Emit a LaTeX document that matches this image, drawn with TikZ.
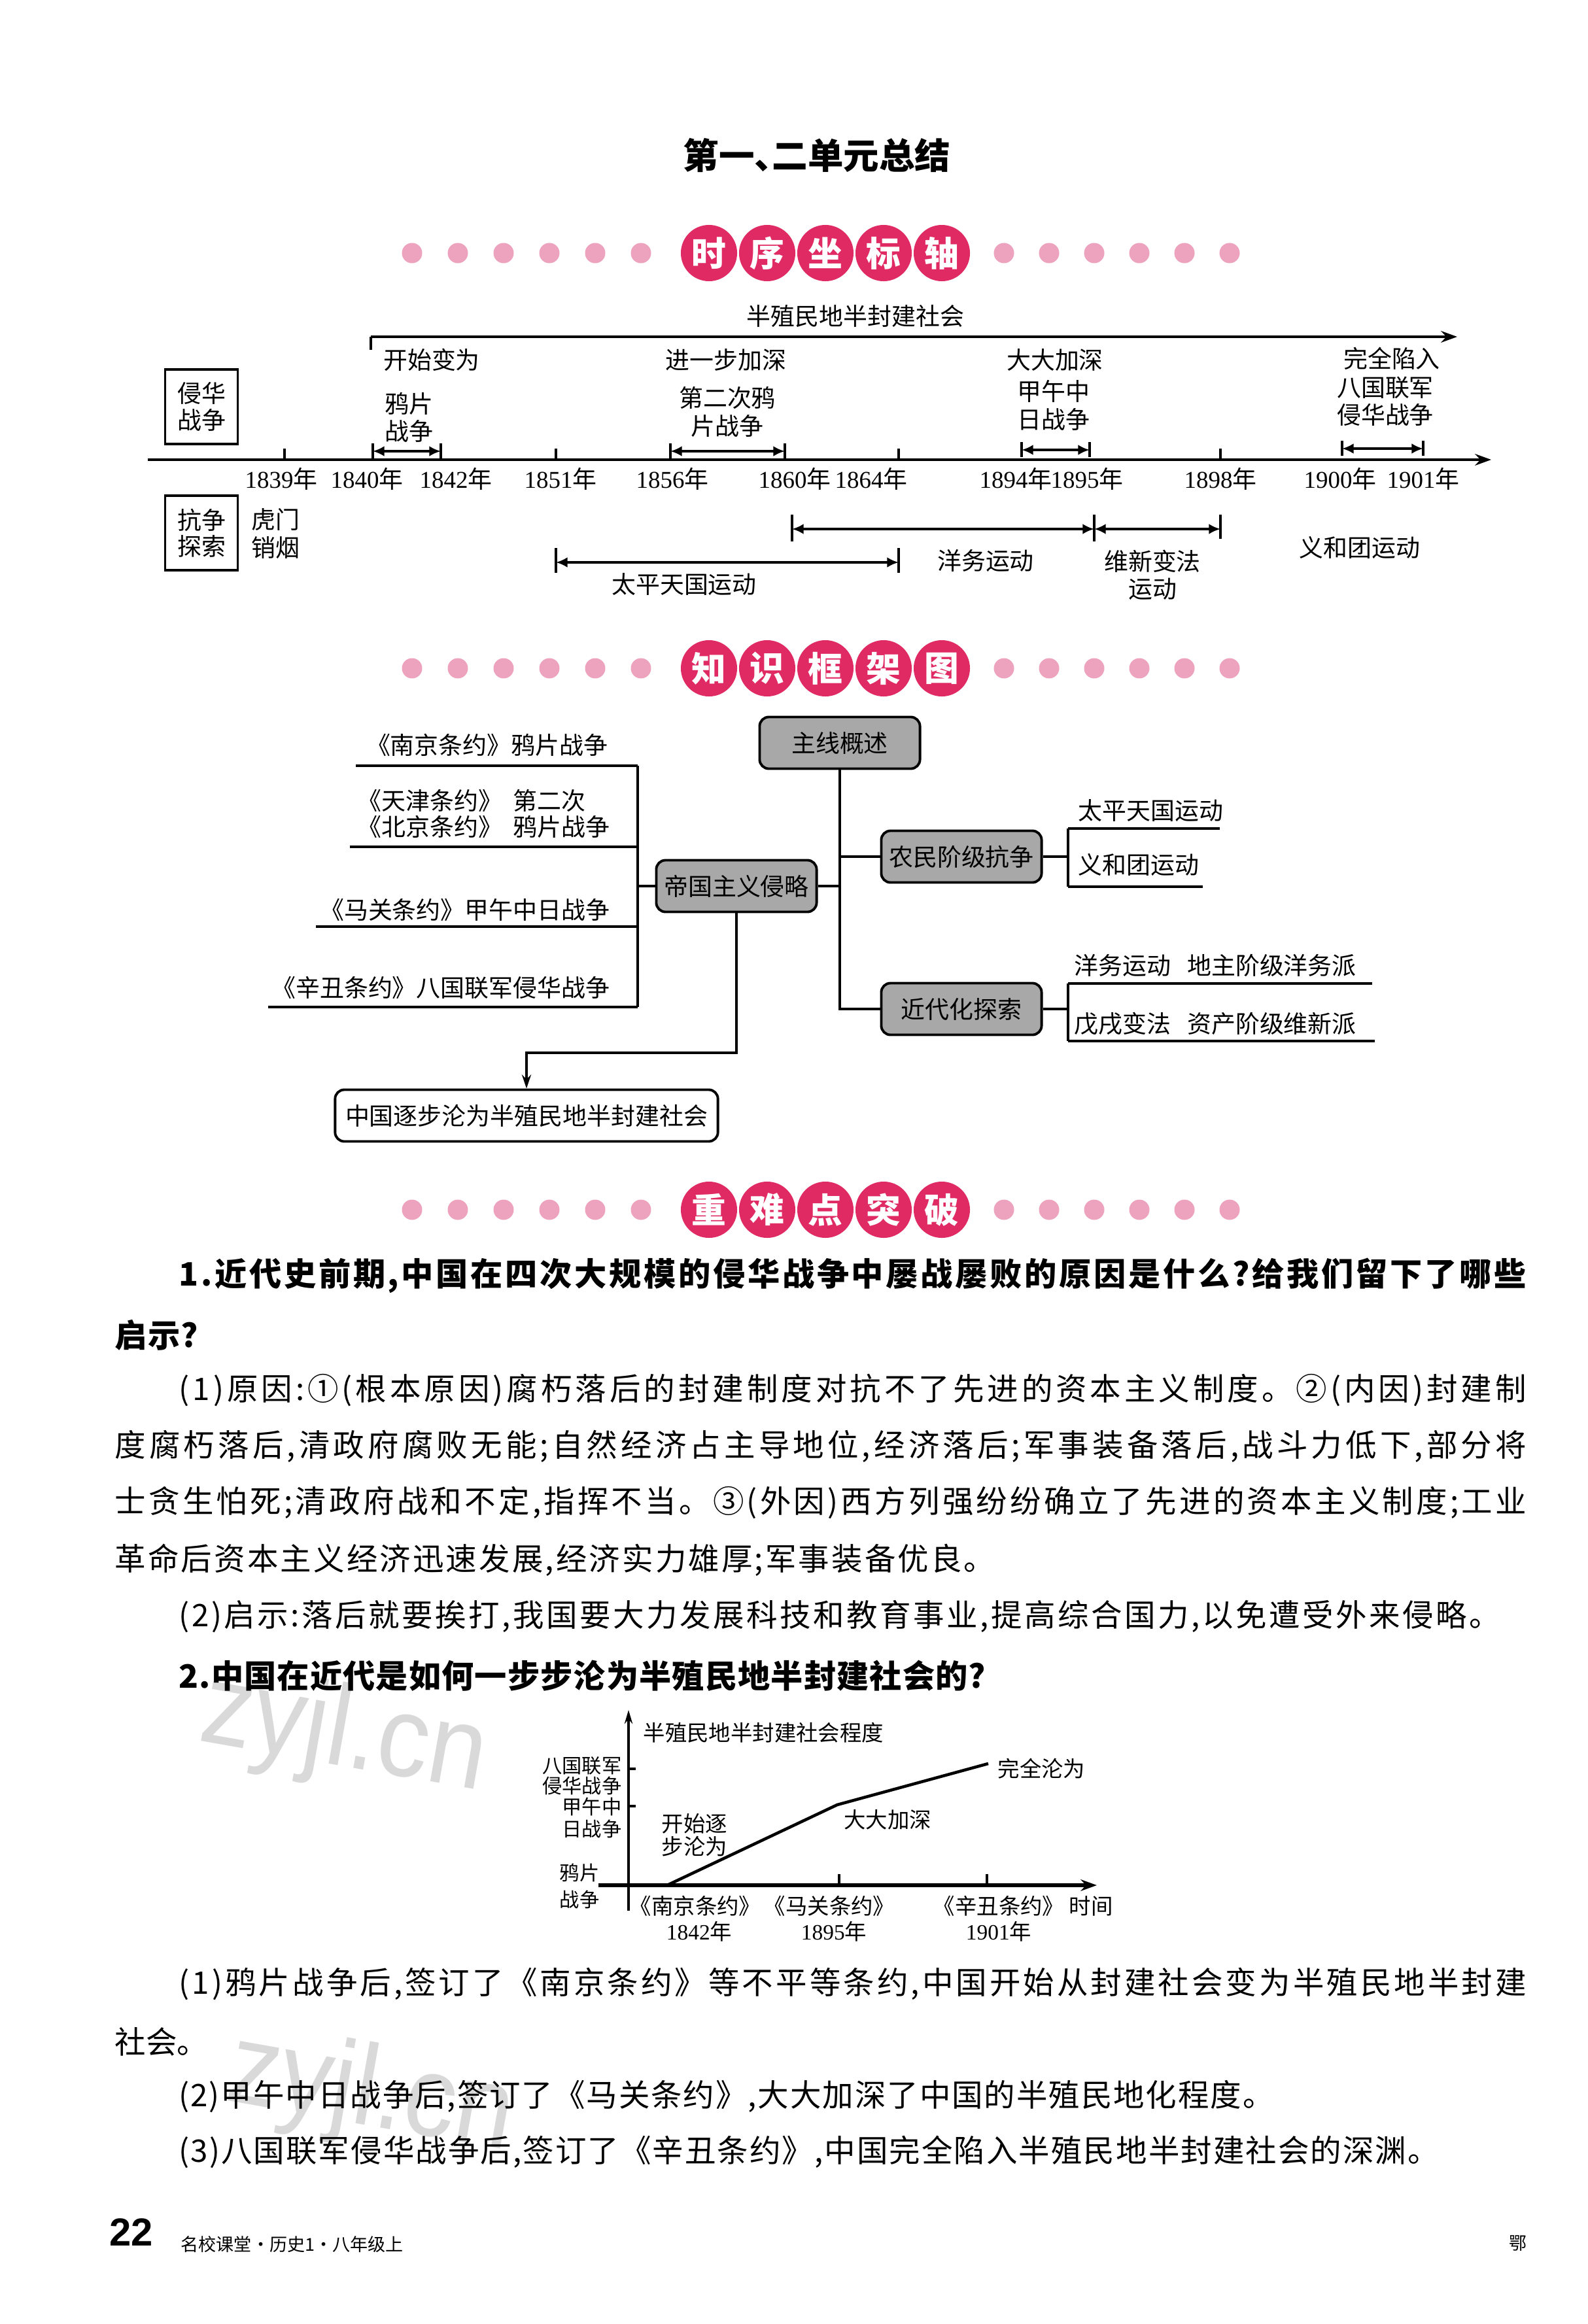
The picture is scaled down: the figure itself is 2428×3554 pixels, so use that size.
\documentclass[tikz,border=0pt]{standalone}
\usepackage{fontspec}
\newfontfamily\cjk{Noto Sans CJK SC}
\newfontfamily\serifdig{Liberation Serif}
\newfontfamily\wmfont{Liberation Sans}
\usetikzlibrary{arrows.meta}
\definecolor{hdrpink}{HTML}{E02A63}
\definecolor{dotpink}{HTML}{EDA3BD}
\definecolor{boxgray}{HTML}{A8A8A8}
\newcommand{\fsz}[1]{\fontsize{#1}{#1}\selectfont}
\newcommand{\yr}[1]{{\serifdig #1}年}
\newcommand{\sprEnd}{SPREND}
\newcommand{\spr}[1]{\sprB#1\sprEnd}
\newcommand{\sprB}[1]{#1\sprA}
\newcommand{\sprA}[1]{\ifx#1\sprEnd\else\hfill#1\expandafter\sprA\fi}
\newcommand{\jline}[2]{\hbox to #1{\spr{#2}}}
\newcommand{\secheader}[3]{%
  \foreach \i in {0,...,5}{%
    \node[hdot] (#2l\i) at ({630+70*\i},#1) {};
    \node[hdot] (#2r\i) at ({1535+69*\i},#1) {};
  }%
  \foreach \c [count=\i] in {#3}{%
    \node[hcirc] (#2c\i) at ({1084+89*(\i-1)},#1) {\c};
  }%
}
\begin{document}
\begin{tikzpicture}[x=0.01cm,y=-0.01cm,
  hdot/.style={circle,fill=dotpink,minimum size=0.31cm,inner sep=0pt},
  hcirc/.style={circle,fill=hdrpink,minimum size=0.86cm,inner sep=0pt,text=white,font=\cjk\bfseries\fsz{15pt}},
  tl/.style={inner sep=0pt,font=\cjk\fontsize{10.5pt}{12pt}\selectfont,align=center},
  axis/.style={line width=1.3pt},
  dbl/.style={line width=1.4pt,{Latex[length=5pt,width=4.5pt]}-{Latex[length=5pt,width=4.5pt]}},
  bar/.style={line width=1pt},
  tbox/.style={draw,line width=1.1pt,minimum width=1.11cm,minimum height=1.14cm,inner sep=0pt,align=center,font=\cjk\fontsize{10.5pt}{11.5pt}\selectfont},
  gbox/.style={draw=black,line width=1.1pt,fill=boxgray,rounded corners=4pt,minimum width=2.45cm,minimum height=0.79cm,inner sep=0pt,font=\cjk\fsz{10.5pt}},
  conn/.style={line width=1.1pt},
  fl/.style={inner sep=0pt,font=\cjk\fontsize{10.5pt}{11.4pt}\selectfont},
  cl/.style={inner sep=0pt,font=\cjk\fontsize{9.5pt}{10pt}\selectfont},
  cly/.style={inner sep=0pt,anchor=east,font=\cjk\fsz{8.6pt}},
  pline/.style={anchor=west,inner sep=0pt,font=\cjk\fsz{13.5pt}},
  qline/.style={anchor=west,inner sep=0pt,font=\cjk\bfseries\fsz{14pt}},
  wm/.style={inner sep=0pt,text=gray!30,font=\wmfont\fsz{50pt}}
]
\useasboundingbox (0,0) rectangle (2428,3554);
\fill[white] (0,0) rectangle (2428,3554);

% watermarks
\node[wm,rotate=-10] (wm1) at (526,2655) {\scalebox{0.9}[1]{zyjl.cn}};
\node[wm,rotate=-10] (wm2) at (567,3205) {\scalebox{0.9}[1]{zyjl.cn}};

% title
\node[inner sep=0pt,font=\cjk\bfseries\fsz{15.5pt}] (title) at (1249,238) {第一、\hspace{-0.5em}二单元总结};

% ===== header 1 =====
\secheader{387}{ha}{时,序,坐,标,轴}

% ===== timeline =====
\node[tl] (bz) at (1308,483) {半殖民地半封建社会};
\coordinate (topL) at (567,515);
\coordinate (topLb) at (567,535);
\coordinate (topR) at (2228,515);
\draw[axis,-{Stealth[length=7pt,width=5pt]}] (topL) -- (topR);
\draw[axis] (topLb) -- (topL);
\node[tl] (s1) at (660,550) {开始变为};
\node[tl] (s2) at (1110,550) {进一步加深};
\node[tl] (s3) at (1613,550) {大大加深};
\node[tl] (s4) at (2128,548) {完全陷入};

\node[tbox] (qh) at (308,622) {侵华\\战争};
\node[tbox] (kz) at (308,815) {抗争\\探索};

\node[tl] (w1) at (625,638) {鸦片\\战争};
\node[tl] (w2) at (1112,630) {第二次鸦\\片战争};
\node[tl] (w3) at (1611,620) {甲午中\\日战争};
\node[tl] (w4) at (2118,614) {八国联军\\侵华战争};

% main axis
\coordinate (axL) at (226,703);
\coordinate (axR) at (2280,703);
\draw[axis,-{Stealth[length=7pt,width=5pt]}] (axL) -- (axR);
\foreach \x in {435,850,1374,1866} { \draw[bar] (\x,703) -- (\x,686); }

% war double arrows
\foreach \a/\b/\y in {570/674/690,1025/1200/690,1562/1666/688,2052/2176/686}{
  \draw[bar] (\a,\y-12) -- (\a,\y+11);
  \draw[bar] (\b,\y-12) -- (\b,\y+11);
  \draw[dbl] (\a,\y) -- (\b,\y);
}

% years
\foreach \x/\t in {430/1839,561/1840,697/1842,857/1851,1028/1856,1215/1860,1332/1864,1553/1894,1662/1895,1866/1898,2049/1900,2176/1901}{
  \node[tl] (y\t) at (\x,732) {\yr{\t}};
}

% struggle arrows
\draw[bar] (1211,787) -- (1211,828);
\draw[bar] (1673,787) -- (1673,828);
\draw[bar] (1866,787) -- (1866,824);
\draw[dbl] (1211,809) -- (1673,809);
\draw[dbl] (1673,809) -- (1866,809);
\draw[bar] (850,838) -- (850,876);
\draw[bar] (1374,838) -- (1374,876);
\draw[dbl] (850,860) -- (1374,860);

\node[tl] (hm) at (421,816) {虎门\\销烟};
\node[tl] (tp) at (1046,894) {太平天国运动};
\node[tl] (yw) at (1507,857) {洋务运动};
\node[tl] (wx) at (1762,879) {维新变法\\运动};
\node[tl] (yh) at (2079,837) {义和团运动};

% ===== header 2 =====
\secheader{1022}{hb}{知,识,框,架,图}

% ===== knowledge frame =====
\node[gbox] (zx) at (1284,1136) {主线概述};
\node[gbox] (dg) at (1126,1355) {帝国主义侵略};
\node[gbox] (nm) at (1470,1310) {农民阶级抗争};
\node[gbox] (jd) at (1470,1543) {近代化探索};
\node[draw,line width=1.1pt,rounded corners=4pt,minimum width=5.85cm,minimum height=0.79cm,inner sep=0pt,font=\cjk\fsz{10.5pt}] (zg) at (805,1706) {中国逐步沦为半殖民地半封建社会};

\draw[conn] (zx.south) |- (jd.west);
\draw[conn] (zx.south |- nm.west) -- (nm.west);
\draw[conn] (dg.east) -- (dg.east -| zx.south);

% left bracket
\coordinate (lbT) at (975,1171);
\coordinate (lbB) at (975,1540);
\draw[conn] (lbT) -- (lbB);
\draw[conn] (dg.west) -- (dg.west -| lbT);
\draw[conn] (lbT) -- (544,1171);
\draw[conn] (975,1295) -- (535,1295);
\draw[conn] (975,1417) -- (483,1417);
\draw[conn] (lbB) -- (410,1540);
\node[fl,anchor=east] (t1) at (930,1139) {《南京条约》鸦片战争};
\node[fl,anchor=west,align=left] (t2) at (546,1244) {《天津条约》\ \ 第二次\\《北京条约》\ \ 鸦片战争};
\node[fl,anchor=east] (t3) at (933,1391) {《马关条约》甲午中日战争};
\node[fl,anchor=east] (t4) at (933,1510) {《辛丑条约》八国联军侵华战争};

% right brackets
\coordinate (rb1T) at (1633,1267);
\coordinate (rb1B) at (1633,1356);
\draw[conn] (rb1T) -- (rb1B);
\draw[conn] (nm.east) -- (nm.east -| rb1T);
\draw[conn] (rb1T) -- (1865,1267);
\draw[conn] (rb1B) -- (1839,1356);
\node[fl,anchor=west] (r1) at (1648,1240) {太平天国运动};
\node[fl,anchor=west] (r2) at (1648,1322) {义和团运动};

\coordinate (rb2T) at (1633,1504);
\coordinate (rb2B) at (1633,1592);
\draw[conn] (rb2T) -- (rb2B);
\draw[conn] (jd.east) -- (jd.east -| rb2T);
\draw[conn] (rb2T) -- (2098,1504);
\draw[conn] (rb2B) -- (2102,1592);
\node[fl,anchor=west] (r3) at (1642,1476) {洋务运动\ \ \ 地主阶级洋务派};
\node[fl,anchor=west] (r4) at (1642,1566) {戊戌变法\ \ \ 资产阶级维新派};

\coordinate (turn) at (805,1610);
\draw[conn,-{Stealth[length=6pt,width=4pt]}] (dg.south) |- (turn) -- (zg.north);

% ===== header 3 =====
\secheader{1850}{hc}{重,难,点,突,破}

% ===== text =====
\node[qline] (q1) at (273,1951) {\jline{20.59cm}{1.近代史前期,中国在四次大规模的侵华战争中屡战屡败的原因是什么?给我们留下了哪些}};
\node[qline] (q1b) at (175,2042) {\jline{1.27cm}{启示?}};
\node[pline] (p1) at (273,2126) {\jline{20.59cm}{(1)原因:①(根本原因)腐朽落后的封建制度对抗不了先进的资本主义制度。②(内因)封建制}};
\node[pline] (p2) at (175,2212) {\jline{21.57cm}{度腐朽落后,清政府腐败无能;自然经济占主导地位,经济落后;军事装备落后,战斗力低下,部分将}};
\node[pline] (p3) at (175,2298) {\jline{21.57cm}{士贪生怕死;清政府战和不定,指挥不当。③(外因)西方列强纷纷确立了先进的资本主义制度;工业}};
\node[pline] (p4) at (175,2386) {\jline{13.45cm}{革命后资本主义经济迅速发展,经济实力雄厚;军事装备优良。}};
\node[pline] (p5) at (273,2472) {\jline{20.19cm}{(2)启示:落后就要挨打,我国要大力发展科技和教育事业,提高综合国力,以免遭受外来侵略。}};
\node[qline] (q2) at (273,2563) {\jline{12.33cm}{2.中国在近代是如何一步步沦为半殖民地半封建社会的?}};

% ===== chart =====
\coordinate (yaB) at (961,2922);
\coordinate (yaT) at (961,2615);
\coordinate (xaL) at (915,2883);
\coordinate (xaR) at (1677,2883);
\draw[line width=0.9pt,-{Stealth[length=6pt,width=3.5pt]}] (yaB) -- (yaT);
\draw[line width=1.5pt,-{Stealth[length=7pt,width=5pt]}] (xaL) -- (xaR);
\draw[line width=0.9pt] (1283,2883) -- (1283,2866);
\draw[line width=0.9pt] (1509,2883) -- (1509,2866);
\draw[line width=0.9pt] (961,2705) -- (972,2705);
\draw[line width=0.9pt] (961,2762) -- (972,2762);
\coordinate (c0) at (1020,2883);
\coordinate (c1) at (1280,2760);
\coordinate (c2) at (1511,2697);
\draw[line width=1.3pt] (c0) -- (c1) -- (c2);

\node[cl,anchor=west] (ct) at (983,2650) {半殖民地半封建社会程度};
\node[cl,anchor=west] (cw) at (1525,2705) {完全沦为};
\node[cl] (cd) at (1357,2783) {大大加深};
\node[cl,align=center] (ck) at (1062,2806) {开始逐\\步沦为};
\node[cly] (cy1) at (951,2700) {八国联军};
\node[cly] (cy2) at (951,2731) {侵华战争};
\node[cly] (cy3) at (951,2763) {甲午中};
\node[cly] (cy4) at (951,2797) {日战争};
\node[cly] (cy5) at (917,2864) {鸦片};
\node[cly] (cy6) at (917,2905) {战争};
\node[cl] (cx1) at (1063,2915) {《南京条约》};
\node[cl] (cx1y) at (1069,2954) {\yr{1842}};
\node[cl] (cx2) at (1268,2915) {《马关条约》};
\node[cl] (cx2y) at (1275,2954) {\yr{1895}};
\node[cl] (cx3) at (1527,2915) {《辛丑条约》};
\node[cl] (cx3y) at (1527,2954) {\yr{1901}};
\node[cl] (cxt) at (1668,2915) {时间};

% answers
\node[pline] (a1) at (273,3034) {\jline{20.59cm}{(1)鸦片战争后,签订了《南京条约》等不平等条约,中国开始从封建社会变为半殖民地半封建}};
\node[pline] (a1b) at (175,3122) {\jline{1.27cm}{社会。}};
\node[pline] (a2) at (273,3206) {\jline{16.73cm}{(2)甲午中日战争后,签订了《马关条约》,大大加深了中国的半殖民地化程度。}};
\node[pline] (a3) at (273,3291) {\jline{19.25cm}{(3)八国联军侵华战争后,签订了《辛丑条约》,中国完全陷入半殖民地半封建社会的深渊。}};

% footer
\node[anchor=west,inner sep=0pt,font=\wmfont\bfseries\fsz{17pt}] (pg) at (167,3414) {22};
\node[anchor=west,inner sep=0pt,font=\cjk\fsz{7.7pt}] (bk) at (276,3432) {名校课堂·历史1·八年级上};
\node[inner sep=0pt,font=\cjk\fsz{7.7pt}] (eh) at (2321,3431) {鄂};
\end{tikzpicture}
\end{document}
